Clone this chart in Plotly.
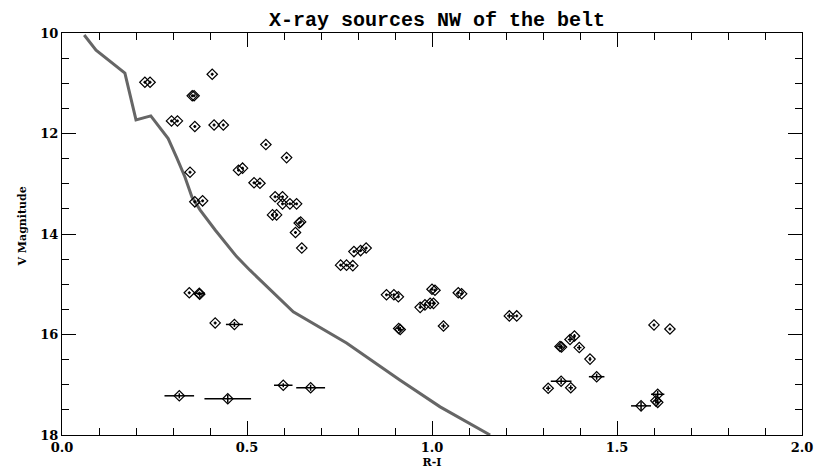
import plotly.graph_objects as go

# Isochrone / reference sequence (gray line)
iso_ri = [0.060, 0.092, 0.170, 0.200, 0.240, 0.287, 0.310, 0.332, 0.351, 0.373,
          0.414, 0.472, 0.508, 0.625, 0.769, 0.914, 1.022, 1.157]
iso_v = [10.04, 10.34, 10.80, 11.73, 11.65, 12.10, 12.48, 12.86, 13.26, 13.52,
         13.92, 14.45, 14.72, 15.55, 16.17, 16.91, 17.44, 18.00]

# X-ray sources
src_ri = [0.406, 0.224, 0.238, 0.352, 0.357, 0.296, 0.312, 0.359, 0.411, 0.436,
          0.551, 0.607, 0.346, 0.477, 0.488, 0.519, 0.535, 0.359, 0.380, 0.576,
          0.596, 0.596, 0.616, 0.634, 0.569, 0.580, 0.641, 0.645, 0.631, 0.648,
          0.789, 0.807, 0.822, 0.753, 0.769, 0.786, 0.344, 0.371, 0.372, 0.877,
          0.897, 0.909, 1.000, 1.008, 1.071, 1.080, 0.968, 0.981, 0.995, 1.004,
          0.914, 0.910, 1.031, 0.414, 0.466, 0.317, 0.448, 0.598, 0.672, 1.209,
          1.229, 1.600, 1.643, 1.385, 1.373, 1.346, 1.350, 1.398, 1.427, 1.445,
          1.349, 1.314, 1.375, 1.565, 1.610, 1.605, 1.610]
src_v = [10.82, 10.98, 10.98, 11.25, 11.25, 11.75, 11.75, 11.86, 11.83, 11.83,
         12.22, 12.48, 12.77, 12.73, 12.69, 12.98, 12.99, 13.36, 13.34, 13.26,
         13.26, 13.40, 13.40, 13.40, 13.62, 13.62, 13.78, 13.76, 13.97, 14.28,
         14.35, 14.33, 14.28, 14.62, 14.62, 14.63, 15.17, 15.18, 15.20, 15.21,
         15.21, 15.25, 15.10, 15.12, 15.17, 15.19, 15.46, 15.41, 15.38, 15.38,
         15.90, 15.88, 15.83, 15.77, 15.80, 17.22, 17.28, 17.01, 17.06, 15.63,
         15.63, 15.81, 15.89, 16.03, 16.10, 16.24, 16.25, 16.26, 16.49, 16.84,
         16.93, 17.07, 17.06, 17.42, 17.19, 17.32, 17.35]
src_ri_err = [0.004, 0.004, 0.004, 0.004, 0.004, 0.004, 0.004, 0.004, 0.004, 0.004,
              0.004, 0.004, 0.004, 0.004, 0.004, 0.004, 0.004, 0.004, 0.004, 0.004,
              0.004, 0.004, 0.004, 0.004, 0.004, 0.004, 0.004, 0.004, 0.004, 0.004,
              0.004, 0.004, 0.004, 0.004, 0.004, 0.004, 0.004, 0.015, 0.006, 0.004,
              0.004, 0.004, 0.004, 0.004, 0.004, 0.004, 0.004, 0.004, 0.004, 0.004,
              0.006, 0.006, 0.006, 0.004, 0.023, 0.040, 0.063, 0.025, 0.039, 0.006,
              0.004, 0.004, 0.004, 0.004, 0.006, 0.006, 0.006, 0.006, 0.004, 0.021,
              0.028, 0.006, 0.006, 0.027, 0.018, 0.006, 0.006]
src_v_err = [0.03, 0.03, 0.03, 0.03, 0.03, 0.03, 0.03, 0.03, 0.03, 0.03,
             0.03, 0.03, 0.03, 0.03, 0.03, 0.03, 0.03, 0.03, 0.03, 0.03,
             0.03, 0.03, 0.03, 0.03, 0.03, 0.03, 0.03, 0.03, 0.03, 0.03,
             0.03, 0.03, 0.03, 0.03, 0.03, 0.03, 0.03, 0.03, 0.05, 0.03,
             0.03, 0.03, 0.03, 0.03, 0.03, 0.03, 0.03, 0.03, 0.03, 0.03,
             0.05, 0.05, 0.05, 0.03, 0.05, 0.05, 0.08, 0.04, 0.06, 0.05,
             0.03, 0.03, 0.03, 0.04, 0.05, 0.05, 0.05, 0.05, 0.04, 0.06,
             0.06, 0.05, 0.05, 0.08, 0.07, 0.06, 0.06]

x_ticks = [0.0, 0.5, 1.0, 1.5, 2.0]
x_tick_labels = ["0.0", "0.5", "1.0", "1.5", "2.0"]
y_ticks = [10, 12, 14, 16, 18]
y_tick_labels = ["10", "12", "14", "16", "18"]

FONT = "DejaVu Serif"
TITLE_FONT = "Liberation Mono"

fig = go.Figure()
fig.add_trace(go.Scatter(
    x=iso_ri, y=iso_v, mode="lines",
    line=dict(color="#666666", width=3),
    cliponaxis=True, showlegend=False, hoverinfo="skip",
))
fig.add_trace(go.Scatter(
    x=src_ri, y=src_v, mode="markers",
    marker=dict(symbol="diamond-open", size=8, color="black",
                line=dict(color="black", width=1.2)),
    error_x=dict(type="data", array=src_ri_err, color="black", thickness=1.5, width=0),
    error_y=dict(type="data", array=src_v_err, color="black", thickness=1.5, width=0),
    showlegend=False,
))

axis_common = dict(
    showline=True, linecolor="black", linewidth=1, mirror="allticks",
    ticks="inside", ticklen=14, tickwidth=1, tickcolor="black",
    showgrid=False, zeroline=False, automargin=False,
    tickfont=dict(family=FONT, size=13, color="black", weight="bold"),
)

fig.update_layout(
    width=817, height=469,
    margin=dict(l=62, r=15, t=33, b=34, autoexpand=False),
    paper_bgcolor="white", plot_bgcolor="white",
    title=dict(text="X-ray sources NW of the belt", x=437 / 817, xanchor="center",
               y=1 - 19 / 469, yanchor="middle",
               font=dict(family=TITLE_FONT, size=20, color="black", weight="bold")),
    xaxis=dict(range=[0, 2], tickvals=x_ticks, ticktext=x_tick_labels,
               minor=dict(dtick=0.1, ticks="inside", ticklen=7, tickcolor="black", showgrid=False),
               title=dict(text="R-I",
                          font=dict(family=FONT, size=11, color="black", weight="bold")),
               **axis_common),
    yaxis=dict(range=[18, 10], tickvals=y_ticks, ticktext=y_tick_labels,
               minor=dict(dtick=0.5, ticks="inside", ticklen=7, tickcolor="black", showgrid=False),
               **axis_common),
    annotations=[dict(
        text="V Magnitude", textangle=-90, showarrow=False,
        xref="paper", yref="paper",
        x=(21.5 - 62) / (802 - 62), xanchor="center",
        y=(435 - 227) / (435 - 33), yanchor="middle",
        font=dict(family=FONT, size=11, color="black", weight="bold"),
    )],
)

fig.write_html("out.html")
